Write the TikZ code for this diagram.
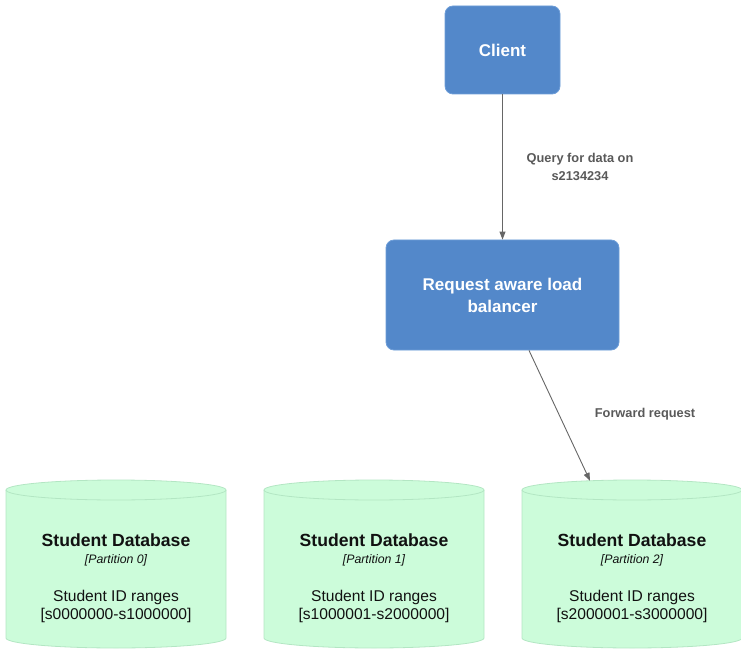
\documentclass[tikz,border=0pt]{standalone}
\usepackage{fontspec}
\setmainfont{Liberation Sans}
\usetikzlibrary{arrows.meta}

\definecolor{boxblue}{HTML}{5388CA}
\definecolor{boxedge}{HTML}{6D9DD8}
\definecolor{dbfill}{HTML}{CCFCDA}
\definecolor{dbedge}{HTML}{B3E6C3}
\definecolor{linkgray}{HTML}{666666}
\definecolor{labelgray}{HTML}{595959}
\definecolor{dbtext}{HTML}{111111}

\tikzset{
  service/.style={draw=boxedge, line width=0.8pt, fill=boxblue, rounded corners=8pt,
    text=white, align=center, inner sep=0pt,
    font=\fontsize{17}{22}\selectfont\bfseries},
  link/.style={draw=linkgray, line width=0.9pt, -{Triangle[length=8pt,width=6pt]}},
  linklabel/.style={text=labelgray, align=center, inner sep=0pt,
    font=\fontsize{12.8}{18}\selectfont\bfseries},
  dbshape/.style={fill=dbfill, draw=dbedge, line width=0.8pt},
  dbtitle/.style={anchor=base, inner sep=0pt, text=dbtext, font=\fontsize{17.6}{20}\selectfont\bfseries},
  dbpart/.style={anchor=base, inner sep=0pt, text=dbtext, font=\fontsize{12.3}{15}\selectfont\itshape},
  dbline/.style={anchor=base, inner sep=0pt, text=dbtext, font=\fontsize{15.6}{19}\selectfont},
}

% one partition cylinder: name, centre x, partition label, id range
\newcommand{\dbcylinder}[4]{%
  \path[dbshape] (#2-110,490) -- (#2-110,638)
    arc[start angle=180, end angle=360, x radius=110pt, y radius=10pt]
    -- (#2+110,490)
    arc[start angle=0, end angle=180, x radius=110pt, y radius=10pt] -- cycle;
  \draw[dbedge, line width=0.8pt] (#2-110,490)
    arc[start angle=180, end angle=360, x radius=110pt, y radius=10pt];
  \coordinate (#1-top) at (#2-42,480.8);
  \node[dbtitle] (#1-title) at (#2,546) {Student Database};
  \node[dbpart]  (#1-part)  at (#2,563) {[#3]};
  \node[dbline]  (#1-label) at (#2,601) {Student ID ranges};
  \node[dbline]  (#1-range) at (#2,619) {[#4]};
}

\begin{document}
\begin{tikzpicture}[x=1pt, y=-1pt]
  \useasboundingbox (0,0) rectangle (741,652);

  \node[service, minimum width=115pt, minimum height=88pt] (client) at (502.5,50) {Client};
  \node[service, minimum width=233pt, minimum height=110pt] (lb) at (502.5,295)
    {Request aware load\\balancer};

  \dbcylinder{db0}{116}{Partition 0}{s0000000-s1000000}
  \dbcylinder{db1}{374}{Partition 1}{s1000001-s2000000}
  \dbcylinder{db2}{632}{Partition 2}{s2000001-s3000000}

  \draw[link] (client.south) -- (lb.north);
  \draw[link] ([xshift=26.5pt]lb.south) -- (db2-top);

  \node[linklabel] (qlabel) at (580,167) {Query for data on\\s2134234};
  \node[linklabel] (flabel) at (645,414) {Forward request};
\end{tikzpicture}
\end{document}
